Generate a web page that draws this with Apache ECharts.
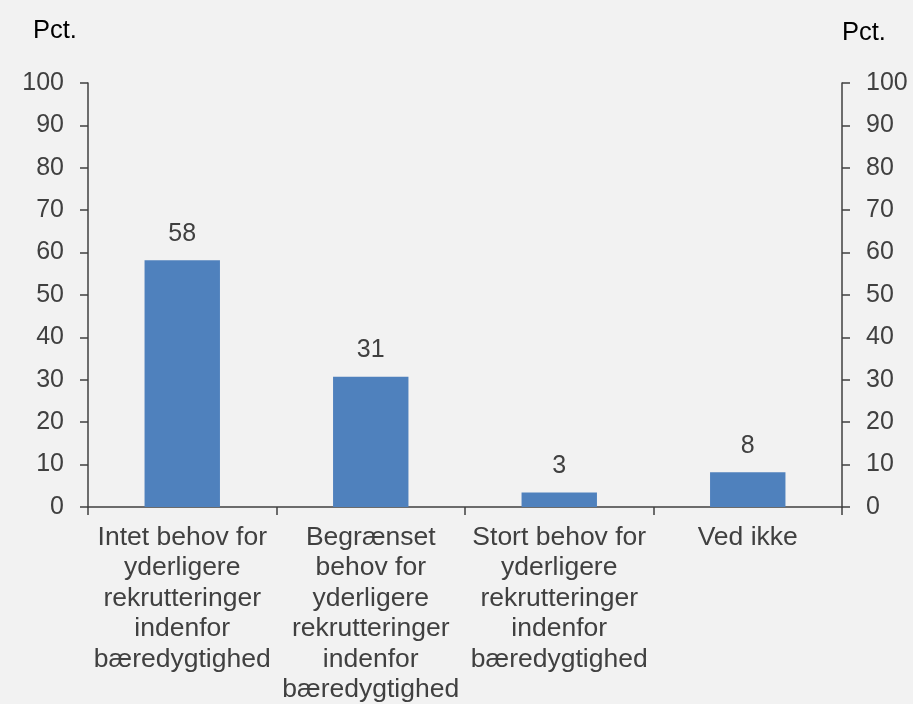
<!DOCTYPE html>
<html>
<head>
<meta charset="utf-8">
<script src="https://cdn.jsdelivr.net/npm/echarts@6/dist/echarts.min.js"></script>
<style>
html,body{margin:0;padding:0;background:#f2f2f2;}
#chart{width:913px;height:704px;}
</style>
</head>
<body>
<div id="chart"></div>
<script>
var categories = [
  "Intet behov for\nyderligere\nrekrutteringer\nindenfor\nbæredygtighed",
  "Begrænset\nbehov for\nyderligere\nrekrutteringer\nindenfor\nbæredygtighed",
  "Stort behov for\nyderligere\nrekrutteringer\nindenfor\nbæredygtighed",
  "Ved ikke"
];
var values = [58.2, 30.7, 3.4, 8.2];
var valueLabels = ["58", "31", "3", "8"];
var yTicks = [0, 10, 20, 30, 40, 50, 60, 70, 80, 90, 100];
var unitLabel = "Pct.";

var FONT = "Liberation Sans, Arial, sans-serif";
var axisColor = "#404040";
var textColor = "#404040";

var chart = echarts.init(document.getElementById("chart"), null, {renderer: "canvas"});

function yAxisCfg(pos) {
  return {
    type: "value",
    position: pos,
    min: yTicks[0],
    max: yTicks[yTicks.length - 1],
    interval: yTicks[1] - yTicks[0],
    axisLine: {show: true, lineStyle: {color: axisColor, width: 1.5}},
    axisTick: {show: true, inside: false, length: 8, lineStyle: {color: axisColor, width: 1.5}},
    axisLabel: {color: textColor, fontSize: 25, fontFamily: FONT, margin: 24},
    splitLine: {show: false}
  };
}

chart.setOption({
  backgroundColor: "#f2f2f2",
  animation: false,
  grid: {left: 88, right: 71, top: 83, bottom: 197, containLabel: false, outerBoundsMode: "none"},
  xAxis: {
    type: "category",
    data: categories,
    boundaryGap: true,
    axisLine: {show: true, lineStyle: {color: axisColor, width: 1.5}},
    axisTick: {show: true, alignWithLabel: false, length: 8, lineStyle: {color: axisColor, width: 1.5}},
    axisLabel: {color: textColor, fontSize: 26.5, fontFamily: FONT, lineHeight: 30.5, margin: 15, interval: 0}
  },
  yAxis: [yAxisCfg("left"), yAxisCfg("right")],
  graphic: [
    {type: "text", left: 33, top: 18, style: {text: unitLabel, fill: "#000", font: "25.5px " + FONT}},
    {type: "text", left: 842, top: 20, style: {text: unitLabel, fill: "#000", font: "25.5px " + FONT}}
  ],
  series: [{
    type: "bar",
    yAxisIndex: 0,
    data: values,
    barWidth: "40%",
    itemStyle: {color: "#4f81bd"},
    label: {
      show: true,
      position: "top",
      distance: 14,
      color: textColor,
      fontSize: 25,
      fontFamily: FONT,
      formatter: function (p) { return valueLabels[p.dataIndex]; }
    }
  }]
});
</script>
</body>
</html>
